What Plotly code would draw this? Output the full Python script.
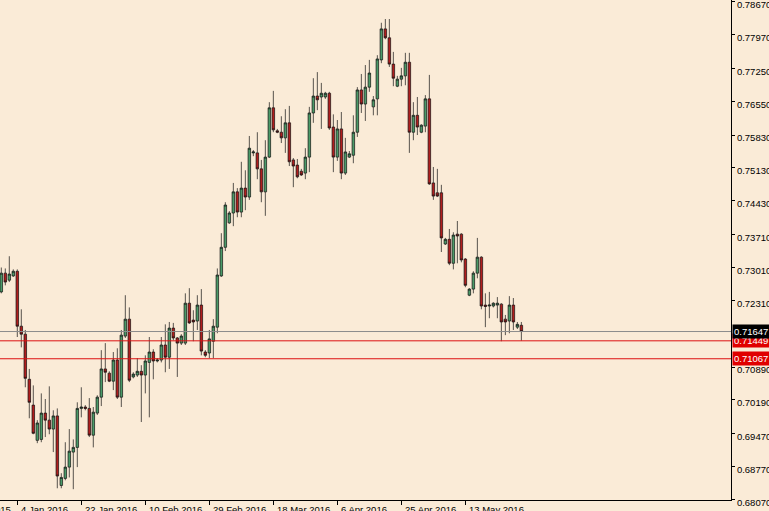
import pandas as pd
import plotly.graph_objects as go

# daily AUDUSD bars (Sunday bars included), 29 Dec 2015 onwards
opens = [
    0.7249, 0.7289, 0.7274, 0.7283, 0.7293, 0.7176, 0.7159, 0.7063, 0.7008, 0.6933,
    0.6935, 0.6991, 0.6976, 0.6957, 0.6985, 0.6837, 0.6852, 0.6876, 0.6908, 0.6918,
    0.7001, 0.7004, 0.7001, 0.6944, 0.6991, 0.7025, 0.7085, 0.7076, 0.7059, 0.7104,
    0.7025, 0.7155, 0.7191, 0.7068, 0.7072, 0.7080, 0.7072, 0.7099, 0.7121, 0.7102,
    0.7104, 0.7136, 0.7110, 0.7172, 0.7151, 0.7140, 0.7140, 0.7225, 0.7189, 0.7187,
    0.7221, 0.7121, 0.7119, 0.7144, 0.7174, 0.7283, 0.7344, 0.7396, 0.7417, 0.7462,
    0.7419, 0.7470, 0.7451, 0.7545, 0.7545, 0.7511, 0.7462, 0.7536, 0.7641, 0.7592,
    0.7589, 0.7577, 0.7609, 0.7530, 0.7519, 0.7506, 0.7502, 0.7536, 0.7630, 0.7666,
    0.7664, 0.7664, 0.7672, 0.7600, 0.7536, 0.7596, 0.7502, 0.7536, 0.7540, 0.7589,
    0.7679, 0.7649, 0.7685, 0.7643, 0.7660, 0.7743, 0.7809, 0.7790, 0.7734, 0.7687,
    0.7702, 0.7709, 0.7738, 0.7589, 0.7625, 0.7589, 0.7602, 0.7660, 0.7481, 0.7460,
    0.7460, 0.7351, 0.7361, 0.7310, 0.7372, 0.7372, 0.7319, 0.7242, 0.7255, 0.7289,
    0.7323, 0.7221, 0.7219, 0.7219, 0.7221, 0.7223, 0.7191, 0.7187, 0.7221, 0.7174,
    0.7178,
]
highs = [
    0.7301, 0.7299, 0.7325, 0.7297, 0.7297, 0.7212, 0.7168, 0.7085, 0.7050, 0.6976,
    0.7033, 0.7021, 0.7048, 0.6997, 0.7001, 0.6863, 0.6929, 0.6957, 0.6935, 0.7014,
    0.7046, 0.7008, 0.7023, 0.7004, 0.7029, 0.7125, 0.7140, 0.7080, 0.7121, 0.7129,
    0.7168, 0.7242, 0.7216, 0.7078, 0.7108, 0.7093, 0.7114, 0.7153, 0.7127, 0.7108,
    0.7153, 0.7180, 0.7185, 0.7183, 0.7153, 0.7159, 0.7246, 0.7257, 0.7210, 0.7242,
    0.7255, 0.7125, 0.7168, 0.7191, 0.7299, 0.7374, 0.7440, 0.7421, 0.7481, 0.7470,
    0.7526, 0.7508, 0.7581, 0.7551, 0.7589, 0.7530, 0.7572, 0.7653, 0.7677, 0.7596,
    0.7623, 0.7638, 0.7645, 0.7534, 0.7532, 0.7511, 0.7555, 0.7643, 0.7704, 0.7717,
    0.7694, 0.7675, 0.7675, 0.7627, 0.7615, 0.7632, 0.7577, 0.7549, 0.7625, 0.7685,
    0.7713, 0.7732, 0.7743, 0.7666, 0.7753, 0.7822, 0.7830, 0.7830, 0.7760, 0.7709,
    0.7726, 0.7758, 0.7758, 0.7653, 0.7664, 0.7606, 0.7668, 0.7711, 0.7515, 0.7511,
    0.7477, 0.7364, 0.7383, 0.7376, 0.7400, 0.7374, 0.7321, 0.7257, 0.7293, 0.7364,
    0.7325, 0.7246, 0.7249, 0.7227, 0.7238, 0.7225, 0.7200, 0.7240, 0.7236, 0.7185,
    0.7185,
]
lows = [
    0.7246, 0.7263, 0.7270, 0.7281, 0.7153, 0.7131, 0.7046, 0.6980, 0.6946, 0.6927,
    0.6929, 0.6940, 0.6946, 0.6908, 0.6831, 0.6831, 0.6848, 0.6854, 0.6829, 0.6876,
    0.6982, 0.6997, 0.6940, 0.6918, 0.6987, 0.7006, 0.7057, 0.7057, 0.7040, 0.7021,
    0.7004, 0.7151, 0.7057, 0.7065, 0.7068, 0.6972, 0.7033, 0.6982, 0.7063, 0.7099,
    0.7099, 0.7078, 0.7085, 0.7146, 0.7068, 0.7136, 0.7136, 0.7181, 0.7144, 0.7168,
    0.7114, 0.7110, 0.7108, 0.7108, 0.7161, 0.7281, 0.7336, 0.7394, 0.7389, 0.7408,
    0.7408, 0.7423, 0.7445, 0.7538, 0.7489, 0.7440, 0.7411, 0.7534, 0.7589, 0.7587,
    0.7566, 0.7545, 0.7517, 0.7472, 0.7491, 0.7496, 0.7489, 0.7504, 0.7609, 0.7636,
    0.7596, 0.7660, 0.7594, 0.7504, 0.7528, 0.7489, 0.7498, 0.7534, 0.7523, 0.7579,
    0.7630, 0.7613, 0.7675, 0.7625, 0.7625, 0.7736, 0.7787, 0.7728, 0.7687, 0.7685,
    0.7687, 0.7689, 0.7545, 0.7572, 0.7583, 0.7587, 0.7589, 0.7477, 0.7445, 0.7451,
    0.7334, 0.7349, 0.7306, 0.7297, 0.7310, 0.7312, 0.7259, 0.7240, 0.7246, 0.7278,
    0.7212, 0.7174, 0.7193, 0.7216, 0.7193, 0.7144, 0.7157, 0.7161, 0.7168, 0.7170,
    0.7145,
]
closes = [
    0.7289, 0.7270, 0.7287, 0.7293, 0.7176, 0.7159, 0.7065, 0.7014, 0.6948, 0.6970,
    0.6991, 0.6976, 0.6957, 0.6985, 0.6857, 0.6854, 0.6876, 0.6910, 0.6918, 0.7001,
    0.7004, 0.7001, 0.6944, 0.6993, 0.7025, 0.7085, 0.7078, 0.7059, 0.7104, 0.7025,
    0.7157, 0.7191, 0.7061, 0.7074, 0.7080, 0.7072, 0.7102, 0.7121, 0.7102, 0.7104,
    0.7136, 0.7110, 0.7172, 0.7151, 0.7140, 0.7155, 0.7225, 0.7183, 0.7185, 0.7221,
    0.7123, 0.7114, 0.7149, 0.7176, 0.7285, 0.7344, 0.7434, 0.7417, 0.7462, 0.7419,
    0.7470, 0.7451, 0.7555, 0.7547, 0.7511, 0.7462, 0.7536, 0.7641, 0.7594, 0.7589,
    0.7577, 0.7609, 0.7526, 0.7517, 0.7494, 0.7498, 0.7536, 0.7630, 0.7666, 0.7658,
    0.7672, 0.7672, 0.7598, 0.7536, 0.7596, 0.7502, 0.7547, 0.7543, 0.7589, 0.7679,
    0.7649, 0.7685, 0.7715, 0.7658, 0.7745, 0.7809, 0.7790, 0.7734, 0.7704, 0.7702,
    0.7709, 0.7738, 0.7589, 0.7625, 0.7600, 0.7604, 0.7660, 0.7479, 0.7453, 0.7453,
    0.7364, 0.7361, 0.7310, 0.7370, 0.7368, 0.7317, 0.7263, 0.7255, 0.7289, 0.7323,
    0.7219, 0.7218, 0.7221, 0.7225, 0.7225, 0.7185, 0.7185, 0.7221, 0.7185, 0.7180,
    0.71647,
]
assert len(opens) == len(highs) == len(lows) == len(closes)

# bar index of each date label (every 16 bars, first one is off screen)
tick_bars = [-12, 4, 20, 36, 52, 68, 84, 100, 116]
tick_labels = ["14 Dec 2015", "4 Jan 2016", "22 Jan 2016", "10 Feb 2016", "29 Feb 2016",
               "18 Mar 2016", "6 Apr 2016", "25 Apr 2016", "13 May 2016"]

price_ticks = [0.7867, 0.7797, 0.7725, 0.7655, 0.7583, 0.7513, 0.7443, 0.7371, 0.7301,
               0.7231, 0.7089, 0.7019, 0.6947, 0.6877, 0.6807]

bid_price = 0.71647
levels = [0.71449, 0.71067]

BG = "#FAEBD7"
FONT = "Liberation Sans"
x_range = [-0.325, 182.4]
y_range = [0.6806, 0.78705]

x = list(range(len(closes)))

fig = go.Figure()
fig.add_trace(go.Candlestick(
    x=x, open=opens, high=highs, low=lows, close=closes,
    increasing=dict(line=dict(color="#111111", width=0.7), fillcolor="#4A9A68"),
    decreasing=dict(line=dict(color="#111111", width=0.7), fillcolor="#B01E1E"),
    whiskerwidth=0, hoverinfo="skip", showlegend=False,
))

shapes = [dict(type="line", xref="paper", x0=0, x1=1, yref="y", y0=bid_price, y1=bid_price,
               line=dict(color="#8C8C8C", width=1), layer="above")]
for lv in levels:
    shapes.append(dict(type="line", xref="paper", x0=0, x1=1, yref="y", y0=lv, y1=lv,
                       line=dict(color="#DD1111", width=1), layer="above"))

annotations = []
span = x_range[1] - x_range[0]
for pos, lab in zip(tick_bars, tick_labels):
    annotations.append(dict(
        xref="paper", x=(pos - x_range[0]) / span, yref="paper", y=0,
        xanchor="left", yanchor="top", xshift=2, yshift=-2, showarrow=False,
        text=lab, font=dict(family=FONT, size=9.5, color="black"),
    ))

for lv in levels:
    annotations.append(dict(
        xref="paper", x=1, xanchor="left", xshift=1, yref="y", y=lv, yanchor="middle",
        text=f"{lv:.5f}", showarrow=False, bgcolor="#E00000", borderpad=1,
        font=dict(family=FONT, size=9.5, color="white"),
    ))
annotations.append(dict(
    xref="paper", x=1, xanchor="left", xshift=1, yref="y", y=bid_price, yanchor="middle",
    text=f"{bid_price:.5f}", showarrow=False, bgcolor="black", borderpad=1,
    font=dict(family=FONT, size=9.5, color="white"),
))

fig.update_layout(
    width=769, height=511,
    margin=dict(l=0, r=38, t=0, b=11, autoexpand=False),
    paper_bgcolor=BG, plot_bgcolor=BG,
    font=dict(family=FONT, size=9.5, color="black"),
    boxgap=0.1,
    shapes=shapes, annotations=annotations,
    xaxis=dict(
        range=x_range, rangeslider=dict(visible=False), showgrid=False, zeroline=False,
        showline=True, linecolor="black", linewidth=1, automargin=False,
        tickmode="array", tickvals=tick_bars, ticktext=[""] * len(tick_bars),
        ticks="outside", ticklen=4, tickcolor="black",
    ),
    yaxis=dict(
        range=y_range, side="right", showgrid=False, zeroline=False,
        showline=True, linecolor="black", linewidth=1, automargin=False,
        tickmode="array", tickvals=price_ticks, ticktext=[f"{v:.5f}" for v in price_ticks],
        ticks="outside", ticklen=3, tickcolor="black", ticklabelshift=3,
        ticklabeloverflow="allow",
        tickfont=dict(family=FONT, size=9.5, color="black"),
    ),
)

# the page is photographed at exactly the figure size, so drop the default body margin
fig.write_html("out.html", config={"displayModeBar": False},
               post_script="document.body.style.margin='0';")
